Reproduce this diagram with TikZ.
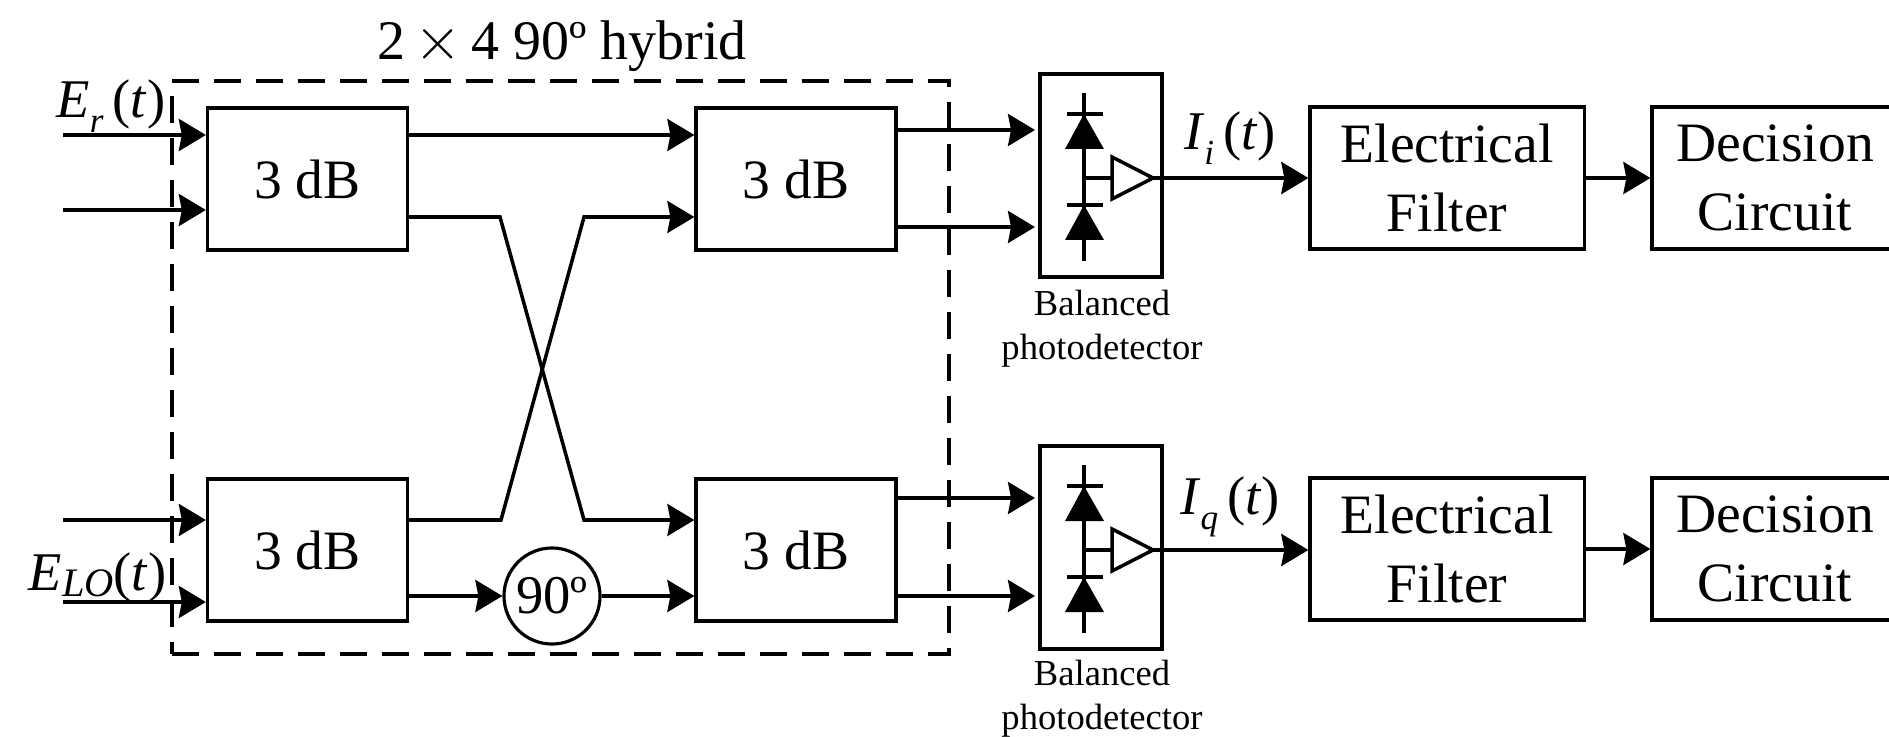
\documentclass[tikz,border=0pt]{standalone}
\usepackage{fontspec}
\setmainfont{Liberation Serif}
\usetikzlibrary{arrows.meta}
\newcommand{\sbs}[1]{\raisebox{-.28em}{\fontsize{10}{10}\selectfont\textit{#1}}}
\newcommand{\sbl}[1]{\raisebox{-.12em}{\fontsize{11.5}{12}\selectfont\textit{#1}}}
\tikzset{
  blk/.style={draw,line width=.9pt,inner sep=0pt,align=center,font=\fontsize{15.8}{19.6}\selectfont},
  dbbox/.style={blk,minimum width=2cm,minimum height=1.42cm},
  filt/.style={blk,minimum width=2.74cm,minimum height=1.42cm},
  dec/.style={blk,minimum width=2.46cm,minimum height=1.42cm},
  bpd/.style={draw,line width=.9pt,minimum width=1.22cm,minimum height=2.03cm,inner sep=0pt},
  lbl/.style={inner sep=0pt,font=\fontsize{15.5}{19.6}\selectfont},
  pdcap/.style={inner sep=0pt,align=center,font=\fontsize{10.4}{12.6}\selectfont},
  sig/.style={line width=1pt,-{Stealth[length=.27cm,width=.32cm,inset=.03cm]}},
  wire/.style={line width=1pt}
}
\begin{document}
\begin{tikzpicture}[x=.01cm,y=-.01cm]
   \useasboundingbox (0,0) rectangle (1889,737);
   %hibrido
   \node[draw,dash pattern=on .27cm off .15cm,line width=1pt,minimum width=7.77cm,minimum height=5.73cm,inner sep=0pt] (hyb) at (560.5,367.5) {};
   \node[lbl,font=\fontsize{15.9}{19.6}\selectfont] (hybt) at (562,46) {2\,$\times$\,4 90º hybrid};
   %bloques 3 dB
   \node[dbbox] (a) at (307.5,179) {3 dB};
   \node[dbbox] (b) at (796,179) {3 dB};
   \node[dbbox] (c) at (307.5,550) {3 dB};
   \node[dbbox] (d) at (796,550) {3 dB};
   \node[draw,circle,line width=.9pt,minimum size=.96cm,inner sep=0pt,font=\fontsize{15.5}{19}\selectfont] (ph) at (552,596) {90º};
   %fotodetectores
   \node[bpd] (pd1) at (1101,175.5) {};
   \node[bpd] (pd2) at (1101,547.5) {};
   \node[pdcap] (pd1t) at (1102,329) {Balanced\\photodetector};
   \node[pdcap] (pd2t) at (1102,699) {Balanced\\photodetector};
   %filtro y decision
   \node[filt] (f1) at (1447,178) {\rule{0pt}{.5em}Electrical\\Filter};
   \node[filt] (f2) at (1447,549) {\rule{0pt}{.5em}Electrical\\Filter};
   \node[dec] (g1) at (1775,178) {\rule{0pt}{.5em}Decision\\Circuit};
   \node[dec] (g2) at (1775,549) {\rule{0pt}{.5em}Decision\\Circuit};
   %etiquetas
   \node[lbl,anchor=east] (er) at (166,106) {\textit{E}\sbs{r}\,(\textit{t})};
   \node[lbl,anchor=east] (elo) at (167,577) {\textit{E}\sbl{LO}(\textit{t})};
   \node[lbl] (ii) at (1230,138) {\textit{I}\sbs{i}\,(\textit{t})};
   \node[lbl] (iq) at (1230,507) {\textit{I}\sbs{q}\,(\textit{t})};
   %entradas
   \coordinate (in1) at (63,135);
   \coordinate (in2) at (63,210);
   \coordinate (in3) at (63,520);
   \coordinate (in4) at (63,602);
   \draw[sig] (in1) -- (a.west |- in1);
   \draw[sig] (in2) -- (a.west |- in2);
   \draw[sig] (in3) -- (c.west |- in3);
   \draw[sig] (in4) -- (c.west |- in4);
   %cruce
   \coordinate (m1) at (500,217);
   \coordinate (m2) at (584,520);
   \coordinate (m3) at (501,520);
   \coordinate (m4) at (584,217);
   \draw[sig] (a.east |- in1) -- (b.west |- in1);
   \draw[sig] (a.east |- m1) -- (m1) -- (m2) -- (d.west |- m2);
   \draw[sig] (c.east |- m3) -- (m3) -- (m4) -- (b.west |- m4);
   \draw[sig] (c.east |- ph) -- (ph);
   \draw[sig] (ph) -- (d.west |- ph);
   %salidas del hibrido
   \coordinate (o1) at (1035,130);
   \coordinate (o2) at (1035,227);
   \coordinate (o3) at (1035,498);
   \coordinate (o4) at (1035,596);
   \draw[sig] (b.east |- o1) -- (o1);
   \draw[sig] (b.east |- o2) -- (o2);
   \draw[sig] (d.east |- o3) -- (o3);
   \draw[sig] (d.east |- o4) -- (o4);
   %diodos arriba
   \draw[wire] (1084,93) -- (1084,261);
   \draw[wire] (1067,114) -- (1103,114);
   \draw[wire] (1067,205) -- (1103,205);
   \fill (1084,114) -- (1104,149) -- (1065,149) -- cycle;
   \fill (1084,205) -- (1104,240) -- (1065,240) -- cycle;
   \draw[wire] (1084,178) -- (1112,178);
   \draw[wire] (1112,157) -- (1112,199) -- (1153,178) -- cycle;
   %diodos abajo
   \draw[wire] (1084,465) -- (1084,633);
   \draw[wire] (1067,486) -- (1103,486);
   \draw[wire] (1067,577) -- (1103,577);
   \fill (1084,486) -- (1104,521) -- (1065,521) -- cycle;
   \fill (1084,577) -- (1104,612) -- (1065,612) -- cycle;
   \draw[wire] (1084,550) -- (1112,550);
   \draw[wire] (1112,529) -- (1112,571) -- (1153,550) -- cycle;
   %salidas
   \coordinate (a1) at (1153,178);
   \coordinate (a2) at (1153,550);
   \draw[sig] (a1) -- (f1.west |- a1);
   \draw[sig] (a2) -- (f2.west |- a2);
   \draw[sig] (f1) -- (g1);
   \draw[sig] (f2) -- (g2);
\end{tikzpicture}
\end{document}
